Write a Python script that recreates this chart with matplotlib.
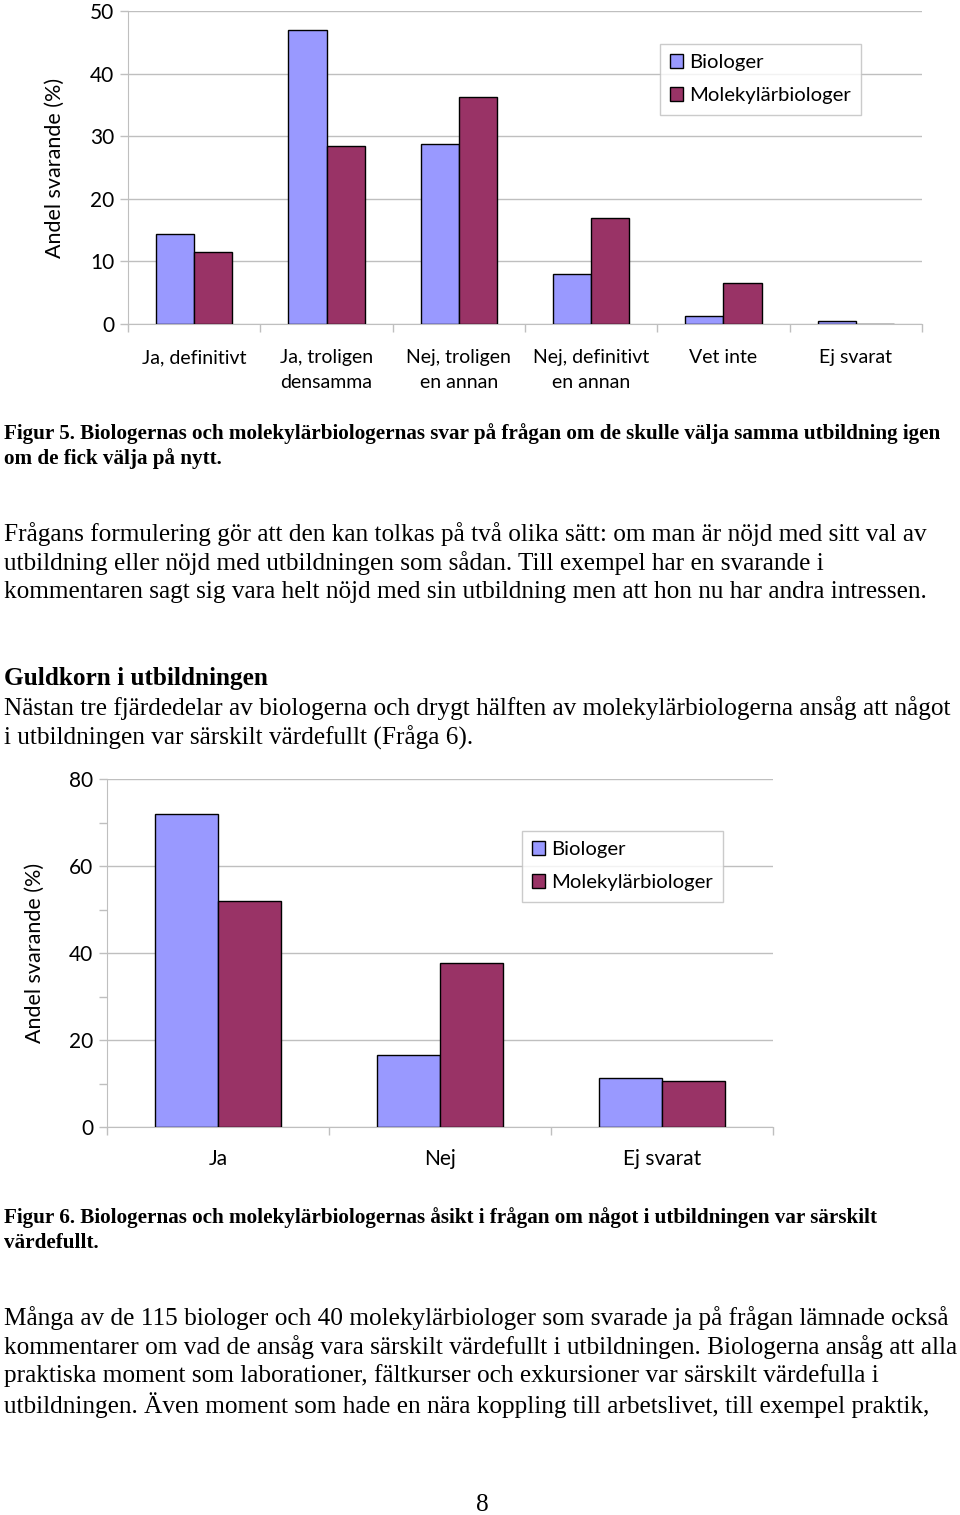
import matplotlib
matplotlib.use('Agg')
import numpy as np
from matplotlib import pyplot as plt

# Figur 5 data
svar5 = ['Ja, definitivt', 'Ja, troligen\ndensamma', 'Nej, troligen\nen annan',
         'Nej, definitivt\nen annan', 'Vet inte', 'Ej svarat']
biologer5 = [14.3, 47.0, 28.7, 8.0, 1.3, 0.5]
molbio5 = [11.5, 28.5, 36.3, 16.9, 6.5, 0.0]

# Figur 6 data
svar6 = ['Ja', 'Nej', 'Ej svarat']
biologer6 = [72.0, 16.6, 11.2]
molbio6 = [52.0, 37.8, 10.5]

serier = ['Biologer', 'Molekylärbiologer']
BIO = '#9999FF'
MOL = '#993366'
GRID = '#BFBFBF'

W, H = 960, 1515
CHART_FONT = 'Lato'
SERIF = 'Liberation Serif'
BODY = 18.2
CAP = 15.2


def ax_rect(left, top, right, bottom):
    # pixel box -> figure fraction
    return [left / W, 1 - bottom / H, (right - left) / W, (bottom - top) / H]


def ftext(x, y, s, **kw):
    kw.setdefault('family', SERIF)
    kw.setdefault('fontsize', BODY)
    kw.setdefault('va', 'center')
    return fig.text(x / W, 1 - y / H, s, **kw)


def bar_chart(ax, labels, bio, mol, ymax, major, minor, gap_w, fs, pad):
    n = len(labels)
    x = np.arange(n)
    bw = gap_w / 2
    ax.bar(x - bw / 2, bio, bw, color=BIO, edgecolor='black', linewidth=1.0,
           label=serier[0], zorder=3)
    ax.bar(x + bw / 2, mol, bw, color=MOL, edgecolor='black', linewidth=1.0,
           label=serier[1], zorder=3)
    ax.set_xlim(-0.5, n - 0.5)
    ax.set_ylim(0, ymax)
    ax.set_yticks(np.arange(0, ymax + 1, major))
    ax.set_yticks(np.arange(0, ymax + 1, minor), minor=True)
    ax.yaxis.grid(True, which='major', color=GRID, linewidth=1.0, zorder=0)
    ax.set_xticks(np.arange(-0.5, n, 1.0))
    ax.set_xticklabels([])
    ax.set_xticks(x, minor=True)
    ax.set_xticklabels(labels, minor=True, fontsize=fs, family=CHART_FONT,
                       linespacing=1.6)
    ax.tick_params(axis='x', which='major', length=6, color=GRID, width=1)
    ax.tick_params(axis='x', which='minor', length=0, pad=pad)
    ax.tick_params(axis='y', which='both', length=6, color=GRID, width=1,
                   labelsize=15, pad=4)
    for lab in ax.get_yticklabels():
        lab.set_family(CHART_FONT)
    for s in ['top', 'right']:
        ax.spines[s].set_visible(False)
    for s in ['left', 'bottom']:
        ax.spines[s].set_color(GRID)
    ax.set_ylabel('Andel svarande (%)', fontsize=15.5, family=CHART_FONT)
    leg = ax.legend(loc='upper left', frameon=True, fancybox=False,
                    prop={'family': CHART_FONT, 'size': 14.6},
                    handlelength=0.65, handleheight=0.65, handletextpad=0.3,
                    borderpad=0.5, labelspacing=0.8, borderaxespad=0)
    leg.get_frame().set_edgecolor(GRID)
    leg.get_frame().set_linewidth(1)
    return leg


fig = plt.figure(figsize=(9.6, 15.15), dpi=100)

# --- Figur 5 ---
ax1 = fig.add_axes(ax_rect(128, 11, 922, 324))
leg1 = bar_chart(ax1, svar5, biologer5, molbio5, 50, 10, 10, 0.575, 14, 18)
leg1.set_bbox_to_anchor((660 / W, 1 - 44 / H), transform=fig.transFigure)
ax1.yaxis.set_label_coords((65 - 128) / (922 - 128), 0.5)

ftext(4, 434, 'Figur 5. Biologernas och molekylärbiologernas svar på frågan om de skulle välja samma utbildning igen',
      fontsize=CAP, weight='bold')
ftext(4, 459, 'om de fick välja på nytt.', fontsize=CAP, weight='bold')

ftext(4, 534, 'Frågans formulering gör att den kan tolkas på två olika sätt: om man är nöjd med sitt val av')
ftext(4, 563, 'utbildning eller nöjd med utbildningen som sådan. Till exempel har en svarande i')
ftext(4, 592, 'kommentaren sagt sig vara helt nöjd med sin utbildning men att hon nu har andra intressen.')

ftext(4, 679, 'Guldkorn i utbildningen', weight='bold')
ftext(4, 708, 'Nästan tre fjärdedelar av biologerna och drygt hälften av molekylärbiologerna ansåg att något')
ftext(4, 738, 'i utbildningen var särskilt värdefullt (Fråga 6).')

# --- Figur 6 ---
ax2 = fig.add_axes(ax_rect(107, 779, 773, 1127))
leg2 = bar_chart(ax2, svar6, biologer6, molbio6, 80, 20, 10, 0.57, 15, 16)
leg2.set_bbox_to_anchor((522 / W, 1 - 831 / H), transform=fig.transFigure)
ax2.yaxis.set_label_coords((45 - 107) / (773 - 107), 0.5)

ftext(4, 1218, 'Figur 6. Biologernas och molekylärbiologernas åsikt i frågan om något i utbildningen var särskilt',
      fontsize=CAP, weight='bold')
ftext(4, 1243, 'värdefullt.', fontsize=CAP, weight='bold')

ftext(4, 1318, 'Många av de 115 biologer och 40 molekylärbiologer som svarade ja på frågan lämnade också')
ftext(4, 1347, 'kommentarer om vad de ansåg vara särskilt värdefullt i utbildningen. Biologerna ansåg att alla')
ftext(4, 1376, 'praktiska moment som laborationer, fältkurser och exkursioner var särskilt värdefulla i')
ftext(4, 1405, 'utbildningen. Även moment som hade en nära koppling till arbetslivet, till exempel praktik,')

ftext(482, 1505, '8', ha='center')

fig.savefig('out.png', dpi=100)
